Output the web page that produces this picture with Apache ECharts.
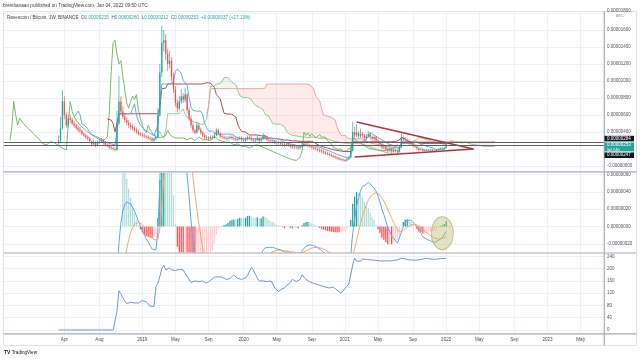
<!DOCTYPE html>
<html><head><meta charset="utf-8">
<script src="https://cdn.jsdelivr.net/npm/echarts@6/dist/echarts.min.js"></script>
<style>html,body{margin:0;padding:0;background:#fff;}#c{width:640px;height:359px;}</style>
</head><body><div id="c"></div>
<script>
// ---------- data (prices in units of 1e-6 BTC) ----------
const startWeek = '2017-08-28';
const weekCount = 309;
const firstBarIndex = 28;
const timeTicks = [['2018-04','Apr'],['2018-08','Aug'],['2019-01','2019'],['2019-05','May'],['2019-09','Sep'],['2020-01','2020'],['2020-05','May'],['2020-09','Sep'],['2021-01','2021'],['2021-05','May'],['2021-09','Sep'],['2022-01','2022'],['2022-05','May'],['2022-09','Sep'],['2023-01','2023'],['2023-05','May']];
const priceGridValues = [0,2,4,6,8,10,12,14,16,18];
const priceLabelValues = [0,4,6,8,10,12,14,16,18];
const macdTicks = [-0.2,0,0.2,0.4,0.6];
const lowerTicks = [0,40,80,120,160,200,240];

const opens = [2.8,3.0,4.5,7.6,6.0,4.8,5.6,5.4,5.0,4.8,
4.5,4.3,4.1,3.8,3.6,3.4,3.2,2.9,2.6,2.8,
2.5,2.7,2.9,3.0,2.7,2.5,2.4,2.2,2.1,2.0,
1.9,5.0,7.6,6.4,5.8,5.4,5.1,4.8,4.6,4.4,
4.2,4.0,3.8,3.7,3.6,3.5,3.4,3.3,3.2,3.0,
3.2,3.4,6.0,11.0,14.5,14.8,13.2,12.0,12.4,10.5,
9.0,7.4,6.8,7.6,8.2,7.8,8.4,6.6,5.6,4.8,
4.2,3.9,4.8,4.3,3.9,3.6,3.4,3.3,3.2,3.4,
3.3,3.6,4.2,3.8,3.5,3.4,3.3,3.2,3.3,3.4,
3.3,3.2,3.1,3.2,3.3,3.1,3.0,3.2,3.4,3.3,
3.1,3.0,3.1,3.3,3.0,3.2,3.5,3.3,3.1,3.0,
2.9,3.0,2.8,2.7,2.8,2.6,2.5,2.4,2.6,2.5,
2.3,2.2,2.3,2.2,2.1,2.3,2.4,2.6,2.5,2.4,
2.3,2.2,2.1,2.0,1.9,1.8,1.7,1.6,1.5,1.4,
1.3,1.2,1.1,1.0,0.9,0.8,0.75,0.7,0.65,0.8,
1.0,1.8,4.0,3.6,3.9,3.5,3.8,3.6,3.3,3.5,
3.7,3.4,3.2,3.4,3.0,2.8,2.6,2.2,2.3,2.0,
1.8,2.0,1.7,1.9,1.8,1.7,2.2,3.3,3.1,3.0,
2.9,2.7,2.6,2.4,2.3,2.1,1.9,2.0,1.8,1.9,
1.9,1.8,1.9,1.8,1.75,1.9,2.0,2.1,2.0,2.15];
const closes = [3.0,4.5,7.6,6.0,4.8,5.6,5.4,5.0,4.8,4.5,
4.3,4.1,3.8,3.6,3.4,3.2,2.9,2.6,2.8,2.5,
2.7,2.9,3.0,2.7,2.5,2.4,2.2,2.1,2.0,1.9,
5.0,7.6,6.4,5.8,5.4,5.1,4.8,4.6,4.4,4.2,
4.0,3.8,3.7,3.6,3.5,3.4,3.3,3.2,3.0,3.2,
3.4,6.0,11.0,14.5,14.8,13.2,12.0,12.4,10.5,9.0,
7.4,6.8,7.6,8.2,7.8,8.4,6.6,5.6,4.8,4.2,
3.9,4.8,4.3,3.9,3.6,3.4,3.3,3.2,3.4,3.3,
3.6,4.2,3.8,3.5,3.4,3.3,3.2,3.3,3.4,3.3,
3.2,3.1,3.2,3.3,3.1,3.0,3.2,3.4,3.3,3.1,
3.0,3.1,3.3,3.0,3.2,3.5,3.3,3.1,3.0,2.9,
3.0,2.8,2.7,2.8,2.6,2.5,2.4,2.6,2.5,2.3,
2.2,2.3,2.2,2.1,2.3,2.4,2.6,2.5,2.4,2.3,
2.2,2.1,2.0,1.9,1.8,1.7,1.6,1.5,1.4,1.3,
1.2,1.1,1.0,0.9,0.8,0.75,0.7,0.65,0.8,1.0,
1.8,4.0,3.6,3.9,3.5,3.8,3.6,3.3,3.5,3.7,
3.4,3.2,3.4,3.0,2.8,2.6,2.2,2.3,2.0,1.8,
2.0,1.7,1.9,1.8,1.7,2.2,3.3,3.1,3.0,2.9,
2.7,2.6,2.4,2.3,2.1,1.9,2.0,1.8,1.9,1.9,
1.8,1.9,1.8,1.75,1.9,2.0,2.1,2.0,2.15,2.53];
const highs = [3.6,5.8,8.9,8.2,6.3,6.0,6.1,5.7,5.3,5.0,
4.8,4.6,4.3,4.0,3.8,3.6,3.4,3.0,3.1,2.9,
3.0,3.2,3.3,3.2,2.9,2.7,2.6,2.4,2.3,2.2,
6.5,10.6,8.2,7.0,6.2,5.7,5.4,5.1,4.9,4.7,
4.5,4.3,4.0,3.9,3.8,3.7,3.6,3.5,3.4,3.4,
3.7,6.8,12.0,16.5,16.0,15.5,13.8,13.5,12.8,11.0,
9.4,7.8,8.2,9.0,8.6,9.2,8.6,6.9,5.9,5.0,
4.4,5.2,5.0,4.5,4.1,3.8,3.6,3.5,3.6,3.6,
3.9,4.5,4.4,4.0,3.7,3.6,3.5,3.5,3.6,3.6,
3.5,3.4,3.4,3.5,3.5,3.3,3.4,3.6,3.6,3.5,
3.3,3.3,3.6,3.4,3.4,3.9,3.7,3.5,3.3,3.2,
3.2,3.1,3.0,3.0,2.9,2.8,2.7,2.8,2.8,2.6,
2.5,2.5,2.4,2.4,2.5,2.7,2.9,2.8,2.7,2.6,
2.5,2.4,2.3,2.2,2.1,2.0,1.9,1.8,1.7,1.6,
1.5,1.35,1.25,1.15,1.05,0.95,0.9,0.85,0.95,1.15,
2.2,5.2,4.6,4.9,4.1,4.4,4.0,3.8,3.8,4.1,
3.9,3.6,3.6,3.5,3.2,2.9,2.7,2.6,2.4,2.2,
2.3,2.1,2.1,2.0,1.9,2.4,3.8,3.6,3.4,3.2,
3.1,2.9,2.8,2.6,2.5,2.2,2.2,2.1,2.0,2.0,
2.0,2.0,2.0,1.9,2.0,2.1,2.2,2.2,2.25,2.60];
const lows = [2.5,2.8,4.3,5.5,4.5,4.6,5.0,4.8,4.5,4.3,
4.0,3.9,3.6,3.4,3.2,3.0,2.7,2.3,2.4,2.2,
2.3,2.6,2.7,2.5,2.3,2.2,2.0,1.9,1.8,1.7,
1.8,4.8,6.0,5.5,5.1,4.8,4.5,4.3,4.2,4.0,
3.8,3.6,3.5,3.4,3.3,3.2,3.1,3.0,2.8,2.8,
3.0,3.3,5.8,10.5,13.5,12.5,11.2,11.5,10.0,8.6,
7.0,6.3,6.5,7.3,7.4,7.5,6.2,5.3,4.5,3.9,
3.7,3.8,4.1,3.7,3.4,3.2,3.1,3.0,3.1,3.1,
3.2,3.5,3.6,3.3,3.2,3.1,3.0,3.0,3.1,3.1,
3.0,2.9,2.9,3.0,2.9,2.8,2.8,3.0,3.1,2.9,
2.8,2.8,2.9,2.6,2.8,3.0,3.1,2.9,2.8,2.7,
2.7,2.6,2.5,2.5,2.4,2.3,2.2,2.3,2.3,2.1,
2.0,2.0,2.0,1.9,2.0,2.2,2.3,2.3,2.2,2.1,
2.0,1.9,1.8,1.7,1.6,1.5,1.4,1.3,1.25,1.15,
1.05,0.95,0.85,0.75,0.7,0.6,0.55,0.5,0.55,0.7,
0.9,1.7,3.3,3.4,3.2,3.3,3.3,3.0,3.1,3.3,
3.1,2.9,2.9,2.8,2.6,2.3,2.0,2.0,1.8,1.6,
1.7,1.5,1.6,1.6,1.5,1.6,2.1,2.9,2.8,2.7,
2.5,2.4,2.2,2.1,1.9,1.7,1.8,1.7,1.7,1.7,
1.7,1.7,1.7,1.65,1.7,1.8,1.9,1.9,1.95,2.12];
const lowerValues = [0,0,0,0,0,0,0,0,0,0,
0,0,0,0,0,0,0,0,0,0,
0,0,0,0,0,0,0,0,0,0,
60,128,118,105,95,86,84,90,86,88,
84,88,90,96,98,92,86,78,72,76,
141,153,175,200,212,196,198,203,196,192,
194,190,198,204,196,185,175,165,155,153,
160,163,158,155,160,156,153,158,162,168,
172,178,174,176,172,170,165,170,168,165,
180,176,168,163,165,162,170,178,192,204,
196,182,170,160,157,160,163,158,162,160,
150,137,140,125,132,128,137,145,141,155,
165,171,158,153,165,180,172,165,160,157,
155,152,150,148,146,144,142,140,139,137,
142,140,135,130,125,120,126,135,139,150,
180,212,234,225,230,224,232,227,230,226,
229,230,228,227,226,227,225,227,226,228,
225,226,227,225,229,232,234,231,232,230,
229,230,228,227,228,229,230,232,233,234,
233,232,231,230,231,232,233,232,233,234];
const hLines = [2.84, 2.47];
const triangleUpper = [['2021-02-15', 5.18], ['2022-04-11', 2.0]];
const triangleLower = [['2021-02-08', 1.06], ['2022-04-11', 2.0]];
const ellipseMark = [['2021-12-20', -0.078]];

// ---------- build ----------
const N = weekCount;
const cats = [];
const d0 = Date.UTC(2017, 7, 28);
for (let i = 0; i < N; i++) cats.push(new Date(d0 + i * 7 * 86400000).toISOString().slice(0, 10));
const tickIdx = new Map();
timeTicks.forEach(([m, label]) => { const i = cats.findIndex(c => c.slice(0, 7) === m); if (i >= 0) tickIdx.set(i, label); });

const UP = '#26a69a', DOWN = '#ef5350';
const nb = closes.length;
const full = () => new Array(N).fill(null);
const candleData = [];
for (let j = 0; j < nb; j++) candleData.push([firstBarIndex + j, opens[j], closes[j], lows[j], highs[j]]);

function mid(j, len) {
  if (j < len - 1) return null;
  let hi = -Infinity, lo = Infinity;
  for (let k = j - len + 1; k <= j; k++) { hi = Math.max(hi, highs[k]); lo = Math.min(lo, lows[k]); }
  return (hi + lo) / 2;
}
const tenkan = full(), kijun = full(), spanA = full(), spanB = full(), chikou = full();
for (let j = 0; j < nb; j++) {
  const c = firstBarIndex + j;
  const t = mid(j, 9), k = mid(j, 26), b = mid(j, 52);
  tenkan[c] = t; kijun[c] = k;
  if (t != null && k != null) spanA[c + 25] = (t + k) / 2;
  if (b != null) spanB[c + 25] = b;
  chikou[c - 25] = closes[j];
}
const cloudBase = full(), cloudGreen = full(), cloudRed = full();
for (let i = 0; i < N; i++) {
  if (spanA[i] != null && spanB[i] != null) {
    cloudBase[i] = Math.min(spanA[i], spanB[i]);
    cloudGreen[i] = spanA[i] >= spanB[i] ? spanA[i] - spanB[i] : 0;
    cloudRed[i] = spanB[i] > spanA[i] ? spanB[i] - spanA[i] : 0;
  }
}
function ema(src, len) {
  const out = new Array(src.length).fill(null);
  const a = 2 / (len + 1);
  let prev = null, cnt = 0;
  for (let i = 0; i < src.length; i++) {
    if (src[i] == null) continue;
    cnt++;
    if (prev == null) {
      if (cnt >= len) { let s = 0; for (let k = i - len + 1; k <= i; k++) s += src[k]; prev = s / len; out[i] = prev; }
    } else { prev = a * src[i] + (1 - a) * prev; out[i] = prev; }
  }
  return out;
}
const e12 = ema(closes, 12), e26 = ema(closes, 26);
const macdRaw = closes.map((_, j) => (e12[j] != null && e26[j] != null) ? e12[j] - e26[j] : null);
const sigRaw = ema(macdRaw, 9);
const macd = full(), signal = full(), hist = full();
let prevH = null;
for (let j = 0; j < nb; j++) {
  const c = firstBarIndex + j;
  macd[c] = macdRaw[j]; signal[c] = sigRaw[j];
  if (macdRaw[j] != null && sigRaw[j] != null) {
    const h = macdRaw[j] - sigRaw[j];
    let col;
    if (h >= 0) col = (prevH != null && prevH < h) ? '#26a69a' : '#b2dfdb';
    else col = (prevH != null && prevH < h) ? '#ffcdd2' : '#ff5252';
    hist[c] = { value: h, itemStyle: { color: col } };
    prevH = h;
  }
}
const lower = full();
for (let j = 0; j < nb; j++) lower[firstBarIndex + j] = lowerValues[j];

const FONT = 'Liberation Sans';
const fmt8 = v => (v * 1e-6).toFixed(8);
function xAxis(g) {
  return {
    type: 'category', gridIndex: g, data: cats, boundaryGap: false,
    axisLine: { show: false }, axisTick: { show: false },
    axisLabel: { show: g === 2, interval: i => tickIdx.has(i), formatter: (v, i) => tickIdx.get(i) || '',
      fontSize: 4.6, fontFamily: FONT, color: '#4a4a4a', margin: 4 },
    splitLine: { show: true, interval: i => tickIdx.has(i), lineStyle: { color: '#eef1f7', width: 1 } }
  };
}
const lbl = { fontSize: 4.5, fontFamily: FONT, color: '#50535e', margin: 3 };
const lineS = (name, data, color, extra) => Object.assign({
  type: 'line', name, data, xAxisIndex: 0, yAxisIndex: 0, symbol: 'none', connectNulls: false,
  lineStyle: { color, width: 1 }, silent: true, z: 2
}, extra || {});

function renderCandle(params, api) {
  const xi = api.value(0), o = api.value(1), c = api.value(2), l = api.value(3), h = api.value(4);
  const pO = api.coord([xi, o]), pC = api.coord([xi, c]), pL = api.coord([xi, l]), pH = api.coord([xi, h]);
  const col = c >= o ? UP : DOWN;
  const top = Math.min(pO[1], pC[1]);
  const ht = Math.max(Math.abs(pO[1] - pC[1]), 0.7);
  return { type: 'group', children: [
    { type: 'line', shape: { x1: pO[0], y1: pH[1], x2: pO[0], y2: pL[1] }, style: { stroke: col, lineWidth: 0.7 } },
    { type: 'rect', shape: { x: pO[0] - 0.65, y: top, width: 1.3, height: ht }, style: { fill: col } }
  ] };
}

const option = {
  animation: false,
  backgroundColor: '#ffffff',
  grid: [
    { left: 4, top: 12, width: 600, height: 159 },
    { left: 4, top: 173, width: 600, height: 79.5 },
    { left: 4, top: 254, width: 600, height: 79 }
  ],
  xAxis: [xAxis(0), xAxis(1), xAxis(2)],
  yAxis: [
    { type: 'value', gridIndex: 0, position: 'right', min: -0.59, max: 18.12,
      axisLine: { show: false }, axisTick: { show: false, customValues: priceGridValues },
      splitLine: { show: true, lineStyle: { color: '#eef1f7' } },
      axisLabel: Object.assign({}, lbl, { customValues: priceLabelValues,
        formatter: v => v === 18 ? '{t|0.00001800}' : (v === 0 ? '-0.00000000' : fmt8(v)),
        rich: { t: { fontSize: 4.5, fontFamily: FONT, color: '#50535e', padding: [0, 0, 5, 0] } } }) },
    { type: 'value', gridIndex: 1, position: 'right', min: -0.3, max: 0.617,
      axisLine: { show: false }, axisTick: { show: false, customValues: macdTicks },
      splitLine: { show: true, lineStyle: { color: '#eef1f7' } },
      axisLabel: Object.assign({}, lbl, { customValues: macdTicks, formatter: v => fmt8(v) }) },
    { type: 'value', gridIndex: 2, position: 'right', min: -10, max: 248,
      axisLine: { show: false }, axisTick: { show: false, customValues: lowerTicks },
      splitLine: { show: true, lineStyle: { color: '#eef1f7' } },
      axisLabel: Object.assign({}, lbl, { customValues: lowerTicks }) }
  ],
  series: [
    lineS('cloudBase', cloudBase, 'rgba(0,0,0,0)', { stack: 'cloud', lineStyle: { opacity: 0 }, z: 1 }),
    lineS('cloudGreen', cloudGreen, 'rgba(0,0,0,0)', { stack: 'cloud', lineStyle: { opacity: 0 }, areaStyle: { color: 'rgba(67,160,71,0.13)' }, z: 1 }),
    lineS('cloudRed', cloudRed, 'rgba(0,0,0,0)', { stack: 'cloud', lineStyle: { opacity: 0 }, areaStyle: { color: 'rgba(244,67,54,0.15)' }, z: 1 }),
    lineS('spanA', spanA, '#93cf92'),
    lineS('spanB', spanB, '#f0a2a2'),
    lineS('chikou', chikou, '#7dbb6b'),
    lineS('kijun', kijun, '#b4504c'),
    lineS('tenkan', tenkan, '#5eacf2', {
      markLine: { symbol: 'none', silent: true, label: { show: false }, animation: false,
        lineStyle: { color: '#5d5f66', width: 1, type: 'solid' }, data: hLines.map(v => ({ yAxis: v })) } }),
    { type: 'custom', name: 'price', xAxisIndex: 0, yAxisIndex: 0, data: candleData, encode: { x: 0, y: [1, 2, 3, 4] },
      renderItem: renderCandle, clip: true, silent: true, z: 3 },
    lineS('triU', triangleUpper, '#b2343a', { lineStyle: { color: '#b2343a', width: 1.4 }, z: 4 }),
    lineS('triL', triangleLower, '#b2343a', { lineStyle: { color: '#b2343a', width: 1.4 }, z: 4 }),
    { type: 'bar', name: 'hist', xAxisIndex: 1, yAxisIndex: 1, data: hist, barWidth: 1.3, silent: true, z: 2 },
    { type: 'line', name: 'macd', xAxisIndex: 1, yAxisIndex: 1, data: macd, symbol: 'none', silent: true, z: 3, lineStyle: { color: '#5aa8f3', width: 1 } },
    { type: 'line', name: 'signal', xAxisIndex: 1, yAxisIndex: 1, data: signal, symbol: 'none', silent: true, z: 3, lineStyle: { color: '#ffa467', width: 1 } },
    { type: 'scatter', name: 'ellipse', xAxisIndex: 1, yAxisIndex: 1, data: ellipseMark, symbol: 'circle', symbolSize: [22, 33], silent: true, z: 4,
      itemStyle: { color: 'rgba(185,185,100,0.5)', borderColor: '#b4b46a', borderWidth: 1 } },
    { type: 'line', name: 'lower', xAxisIndex: 2, yAxisIndex: 2, data: lower, symbol: 'none', silent: true, lineStyle: { color: '#7090f5', width: 1 } }
  ],
  graphic: [
    { type: 'rect', silent: true, z: 0, shape: { x: 3.5, y: 11.5, width: 633, height: 334 }, style: { fill: null, stroke: '#dfe2e8', lineWidth: 1 } },
    { type: 'line', silent: true, z: 10, shape: { x1: 3.5, y1: 171.8, x2: 636.5, y2: 171.8 }, style: { stroke: '#a9acb5', lineWidth: 1.2 } },
    { type: 'line', silent: true, z: 10, shape: { x1: 3.5, y1: 253, x2: 636.5, y2: 253 }, style: { stroke: '#a9acb5', lineWidth: 1.2 } },
    { type: 'line', silent: true, z: 10, shape: { x1: 3.5, y1: 333.8, x2: 636.5, y2: 333.8 }, style: { stroke: '#a9acb5', lineWidth: 1.2 } },
    { type: 'line', silent: true, z: 10, shape: { x1: 604.3, y1: 11.5, x2: 604.3, y2: 345.5 }, style: { stroke: '#a9acb5', lineWidth: 1.2 } },
    { type: 'text', silent: true, x: 3, y: 6, style: { text: 'breinbanaan published on TradingView.com, Jan 04, 2022 09:50 UTC', fontSize: 4.7, fontFamily: FONT, fill: '#3a3a3a', verticalAlign: 'middle' } },
    { type: 'text', silent: true, z: 10, x: 7, y: 17.6, style: {
      text: '{t|Ravencoin / Bitcoin, 1W, BINANCE}  {k|O}{v|0.00000215}  {k|H}{v|0.00000260}  {k|L}{v|0.00000212}  {k|C}{v|0.00000253}  {v|+0.00000037 (+17.13%)}',
      verticalAlign: 'middle', fontSize: 4.6, fontFamily: FONT,
      rich: { t: { fontSize: 4.6, fontFamily: FONT, fill: '#3a3a3a' }, k: { fontSize: 4.6, fontFamily: FONT, fill: '#555' }, v: { fontSize: 4.6, fontFamily: FONT, fill: '#26a69a' } } } },
    { type: 'text', silent: true, x: 620, y: 15.6, style: { text: 'BTC', fontSize: 3.8, fontFamily: FONT, fill: '#6a6d78', align: 'center', verticalAlign: 'middle' } },
    { type: 'rect', silent: true, z: 10, shape: { x: 604.5, y: 135.8, width: 29.5, height: 5.6 }, style: { fill: '#131722' } },
    { type: 'text', silent: true, z: 11, x: 607, y: 138.6, style: { text: '0.00000284', fontSize: 4.5, fontFamily: FONT, fill: '#fff', verticalAlign: 'middle' } },
    { type: 'rect', silent: true, z: 10, shape: { x: 604.5, y: 142.4, width: 29.5, height: 9 }, style: { fill: '#26a69a' } },
    { type: 'text', silent: true, z: 11, x: 607, y: 144.8, style: { text: '0.00000253', fontSize: 4.5, fontFamily: FONT, fill: '#fff', verticalAlign: 'middle' } },
    { type: 'text', silent: true, z: 11, x: 607, y: 149.4, style: { text: '5d 14h', fontSize: 4.2, fontFamily: FONT, fill: '#fff', verticalAlign: 'middle' } },
    { type: 'rect', silent: true, z: 10, shape: { x: 604.5, y: 152.4, width: 29.5, height: 5.6 }, style: { fill: '#131722' } },
    { type: 'text', silent: true, z: 11, x: 607, y: 155.2, style: { text: '0.00000247', fontSize: 4.5, fontFamily: FONT, fill: '#fff', verticalAlign: 'middle' } },
    { type: 'text', silent: true, x: 4, y: 352.5, style: { text: '{l|TV} {n|TradingView}', verticalAlign: 'middle', fontSize: 4.6,
      rich: { l: { fontSize: 5, fontWeight: 'bold', fontFamily: FONT, fill: '#131722' }, n: { fontSize: 4.6, fontFamily: FONT, fill: '#131722' } } } }
  ]
};
const chart = echarts.init(document.getElementById('c'));
chart.setOption(option);
</script>
</body></html>
